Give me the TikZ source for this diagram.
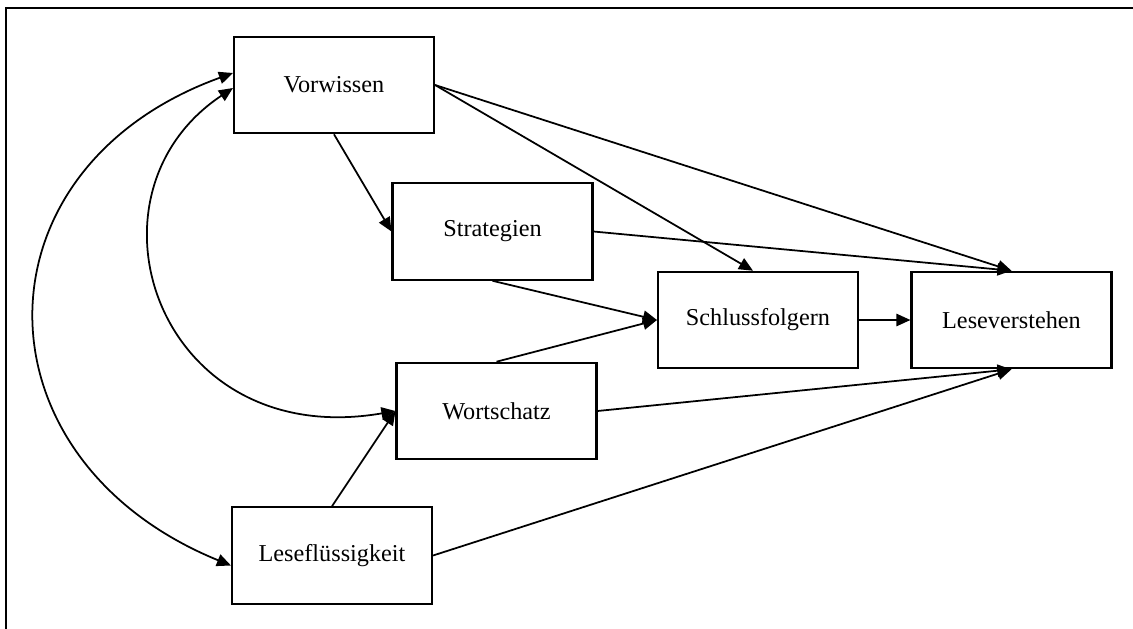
\documentclass[tikz,border=0pt]{standalone}
\usepackage{fontspec}
\setmainfont{Liberation Serif}
\usetikzlibrary{arrows.meta,calc}
\begin{document}
\begin{tikzpicture}[x=0.02cm,y=-0.02cm,
  box/.style={draw,line width=1.2pt,minimum width=4cm,minimum height=1.93cm,
    inner sep=0pt,font=\fontsize{13.8}{16}\selectfont},
  arr/.style={line width=1pt,-{Triangle[length=8pt,width=7pt]}},
  both/.style={line width=1pt,{Triangle[length=8pt,width=7pt]}-{Triangle[length=8pt,width=7pt]}}]
  \useasboundingbox (0,0) rectangle (1133,629);
  % frame (top and left edges)
  \draw[line width=1pt] (6,629) -- (6,8) -- (1133,8);

  % variables
  \node[box] (vw) at (334,85) {Vorwissen};
  \node[box] (st) at (492.5,231.5) {Strategien};
  \node[box] (sf) at (758,320) {Schlussfolgern};
  \node[box] (lv) at (1011.5,320) {Leseverstehen};
  \node[box] (ws) at (496.5,411) {Wortschatz};
  \node[box] (lf) at (332,555.5) {Leseflüssigkeit};

  % anchor points for the correlation arcs
  \coordinate (vwA) at ($(vw.west)+(0,-12)$);
  \coordinate (vwB) at ($(vw.west)+(0,3)$);
  \coordinate (lfA) at ($(lf.west)+(0,10)$);

  % directed paths
  \draw[arr] (vw.east) -- (lv.north);
  \draw[arr] (vw.east) -- ($(sf.north)+(-5,0)$);
  \draw[arr] (vw.south) -- (st.west);
  \draw[arr] (st.east) -- (lv.north);
  \draw[arr] (st.south) -- (sf.west);
  \draw[arr] (ws.north) -- (sf.west);
  \draw[arr] (sf.east) -- (lv.west);
  \draw[arr] (ws.east) -- (lv.south);
  \draw[arr] (lf.east) -- (lv.south);
  \draw[arr] (lf.north) -- (ws.west);

  % correlations
  \draw[both] (vwA) .. controls (-30,168) and (-30,459) .. (lfA);
  \draw[both] (vwB) .. controls (72,195) and (158,452) .. (ws.west);
\end{tikzpicture}
\end{document}
